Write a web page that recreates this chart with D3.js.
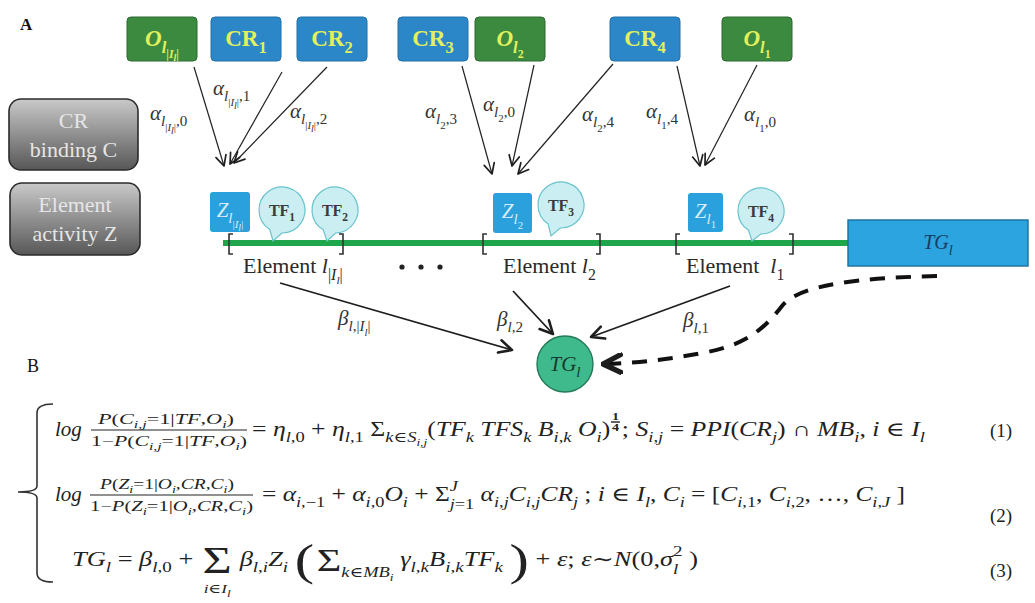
<!DOCTYPE html>
<html>
<head>
<meta charset="utf-8">
<script src="https://cdn.jsdelivr.net/npm/d3@7"></script>
<style>
  body { margin: 0; background: #fff; }
  svg { display: block; }
  text { white-space: pre; }
</style>
</head>
<body>
<script>
// ---- content ----
const panelLabels = ["A", "B"];
const topBoxLabels = ["O_{l_{|I_l|}}", "CR_1", "CR_2", "CR_3", "O_{l_2}", "CR_4", "O_{l_1}"];
const topBoxKinds = ["O", "CR", "CR", "CR", "O", "CR", "O"];
const sideButtons = [["CR", "binding C"], ["Element", "activity Z"]];
const elementNames = ["l_{|I_l|}", "l_2", " l_1"];
const zLabels = ["Z_{l_{|I_l|}}", "Z_{l_2}", "Z_{l_1}"];
const tfLabels = ["TF_1", "TF_2", "TF_3", "TF_4"];
const alphaLabels = ["α_{l_{|I_l|},0}", "α_{l_{|I_l|},1}", "α_{l_{|I_l|},2}", "α_{l_2,3}", "α_{l_2,0}", "α_{l_2,4}", "α_{l_1,4}", "α_{l_1,0}"];
const betaLabels = ["β_{l,|I_l|}", "β_{l,2}", "β_{l,1}"];
const geneLabel = "TG_l";
const eqNumbers = ["(1)", "(2)", "(3)"];

const eq1Num = "P(C_{i,j}=1|TF,O_i)";
const eq1Den = "1−P(C_{i,j}=1|TF,O_i)";
const eq1Rhs = "= η_{l,0} + η_{l,1} Σ_{k∈S_{i,j}}(TF_k TFS_k B_{i,k} O_i)^{1/4}; S_{i,j} = PPI(CR_j) ∩ MB_i, i ∈ I_l";
const eq2Num = "P(Z_i=1|O_i,CR,C_i)";
const eq2Den = "1−P(Z_i=1|O_i,CR,C_i)";
const eq2Rhs = "= α_{i,−1} + α_{i,0}O_i + Σ_{j=1}^{J} α_{i,j}C_{i,j}CR_j ; i ∈ I_l, C_i = [C_{i,1}, C_{i,2}, …, C_{i,J} ]";
const eq3Parts = ["TG_l = β_{l,0} + ", "i∈I_l", "β_{l,i}Z_i ", "k∈MB_i", " γ_{l,k}B_{i,k}TF_k ", " + ε; ε∼N(0,σ_l^2 )"];

// ---- layout ----
const W = 1035, H = 603;
const boxX = [127, 211, 297, 398, 475, 610, 722], boxY = 17, boxW = 70, boxH = 44;
const alphaStart = [[194, 67], [282, 72], [327, 67], [462, 66], [534, 65], [613, 64], [677, 66], [757, 65]];
const alphaEnd = [[224, 166], [230, 164], [234, 163], [492, 174], [512, 166], [518, 174], [700, 166], [705, 165]];
const alphaLabelPos = [[150, 120], [213, 95], [290, 118], [425, 118], [483, 111], [582, 121], [646, 118], [744, 121]];
const lineY = 243, lineX = [223, 850];
const bracketX = [[229, 343], [483, 600], [676, 793]];
const zBox = [[210, 192, 40, 40], [493, 193, 39, 40], [688, 193, 35, 39]];
const tfPos = [[282, 210], [335, 210], [561, 205], [761, 211]], tfR = 23;
const tfTip = [[273, 241], [327, 241], [551, 236], [752, 241]];
const elemX = [243, 503, 686], elemY = 273;
const dotsX = [402, 421, 440], dotsY = 267;
const tgBox = [848, 220, 180, 46];
const tgCircle = [565, 364, 28];
const betaStart = [[280, 283], [513, 291], [730, 286]];
const betaEnd = [[512, 350], [553, 334], [591, 337]];
const betaLabelPos = [[338, 325], [497, 326], [683, 327]];

const serif = "'Liberation Serif', 'DejaVu Serif', serif";

const svg = d3.select("body").append("svg")
  .attr("width", W).attr("height", H)
  .attr("viewBox", `0 0 ${W} ${H}`);

const defs = svg.append("defs");
function addHead(id, size, sw) {
  defs.append("marker").attr("id", id)
    .attr("viewBox", "0 0 10 10").attr("refX", 9).attr("refY", 5)
    .attr("markerWidth", size).attr("markerHeight", size)
    .attr("markerUnits", "userSpaceOnUse").attr("orient", "auto")
    .append("path").attr("d", "M1,1 L9,5 L1,9")
    .attr("fill", "none").attr("stroke", "#1e1e1e").attr("stroke-width", sw)
    .attr("stroke-linecap", "round").attr("stroke-linejoin", "round");
}
addHead("headThin", 13, 1.3);
addHead("headMid", 16, 1.6);
addHead("headBig", 22, 2.4);

const grad = defs.append("linearGradient").attr("id", "grayGrad")
  .attr("x1", 0).attr("y1", 0).attr("x2", 0).attr("y2", 1);
grad.append("stop").attr("offset", "0%").attr("stop-color", "#c9c9c9");
grad.append("stop").attr("offset", "100%").attr("stop-color", "#575757");

// ---- rich text: _{} subscripts, ^{} superscripts ----
function readArg(s, i) {
  if (s[i] !== "{") return [s[i], i + 1];
  let depth = 0, j = i;
  for (; j < s.length; j++) {
    if (s[j] === "{") depth++;
    else if (s[j] === "}") { depth--; if (depth === 0) break; }
  }
  return [s.slice(i + 1, j), j + 1];
}

const letterRe = /[A-Za-z\u03B1-\u03C9\u0393\u0394\u0398\u039B\u039E\u03A0\u03A6\u03A8\u03A9]/;

function drawRun(g, run, x, y, size, o) {
  let cx = x;
  const chunks = [];
  for (const ch of run) {
    const it = o.math && letterRe.test(ch);
    if (chunks.length && chunks[chunks.length - 1].it === it) chunks[chunks.length - 1].t += ch;
    else chunks.push({ t: ch, it });
  }
  chunks.forEach(c => {
    const t = g.append("text").attr("x", cx).attr("y", y)
      .attr("font-family", o.family || serif).attr("font-size", size)
      .attr("font-style", c.it ? "italic" : "normal")
      .attr("font-weight", o.bold ? "bold" : "normal")
      .attr("fill", o.fill || "#222").text(c.t);
    cx += t.node().getComputedTextLength();
  });
  return cx - x;
}

function rich(g, s, x, y, size, o) {
  let i = 0, cx = x;
  while (i < s.length) {
    const c = s[i];
    if (c === "_" || c === "^") {
      let sub = null, sup = null;
      let [a, ni] = readArg(s, i + 1);
      if (c === "_") sub = a; else sup = a;
      i = ni;
      if (i < s.length && (s[i] === "_" || s[i] === "^") && s[i] !== c) {
        const [a2, n2] = readArg(s, i + 1);
        if (s[i] === "^") sup = a2; else sub = a2;
        i = n2;
      }
      const both = sub !== null && sup !== null;
      const s2 = Math.max(size * 0.72, 10);
      let w = 0;
      if (sub !== null) w = Math.max(w, rich(g, sub, cx, y + size * (both ? 0.38 : 0.3), s2, o));
      if (sup === "1/4") {
        // small stacked fraction exponent
        const fs = size * 0.55;
        g.append("text").attr("x", cx + 4).attr("y", y - size * 0.78).attr("text-anchor", "middle")
          .attr("font-family", serif).attr("font-size", fs).attr("font-weight", "bold").attr("fill", o.fill || "#222").text("1");
        g.append("line").attr("x1", cx + 0.5).attr("x2", cx + 7.5)
          .attr("y1", y - size * 0.7).attr("y2", y - size * 0.7).attr("stroke", "#222").attr("stroke-width", 1.4);
        g.append("text").attr("x", cx + 4).attr("y", y - size * 0.25).attr("text-anchor", "middle")
          .attr("font-family", serif).attr("font-size", fs).attr("font-weight", "bold").attr("fill", o.fill || "#222").text("4");
        w = Math.max(w, 9);
      } else if (sup !== null) {
        w = Math.max(w, rich(g, sup, cx, y - size * (both ? 0.5 : 0.42), s2, o));
      }
      cx += w;
    } else {
      let j = i;
      while (j < s.length && s[j] !== "_" && s[j] !== "^") j++;
      cx += drawRun(g, s.slice(i, j), cx, y, size, o);
      i = j;
    }
  }
  return cx - x;
}

// render then stretch horizontally to a target width
function fitGroup(g, x0, w, target) {
  g.attr("transform", `translate(${x0},0) scale(${target / w},1) translate(${-x0},0)`);
}

function richCentered(g, s, cx, y, size, o) {
  const sub = g.append("g");
  const w = rich(sub, s, 0, y, size, o);
  sub.attr("transform", `translate(${cx - w / 2},0)`);
  return w;
}

// ---- panel labels ----
svg.append("text").attr("x", 20).attr("y", 30).attr("font-family", serif)
  .attr("font-weight", "bold").attr("font-size", 17).attr("fill", "#111").text(panelLabels[0]);
svg.append("text").attr("x", 27).attr("y", 372).attr("font-family", serif)
  .attr("font-size", 18).attr("fill", "#111").text(panelLabels[1]);

// ---- side buttons ----
const btnRects = [[9, 99, 129, 71], [10, 183, 130, 72]];
sideButtons.forEach((lines, k) => {
  const [x, y, w, h] = btnRects[k];
  svg.append("rect").attr("x", x).attr("y", y).attr("width", w).attr("height", h)
    .attr("rx", 12).attr("fill", "url(#grayGrad)").attr("stroke", "#2b2b2b").attr("stroke-width", 1.6);
  lines.forEach((t, li) => {
    svg.append("text").attr("x", x + w / 2).attr("y", y + 29 + li * 29)
      .attr("text-anchor", "middle").attr("font-family", serif).attr("font-size", 22)
      .attr("fill", "#e6e6e6").text(t);
  });
});

// ---- top boxes ----
topBoxLabels.forEach((lab, k) => {
  const isO = topBoxKinds[k] === "O";
  svg.append("rect").attr("x", boxX[k]).attr("y", boxY).attr("width", boxW).attr("height", boxH)
    .attr("rx", 4).attr("fill", isO ? "#3b8a3f" : "#2b87c8")
    .attr("stroke", isO ? "#2c6a30" : "#2170a8").attr("stroke-width", 1);
  richCentered(svg.append("g"), lab, boxX[k] + boxW / 2, boxY + 29, 23,
    { math: isO, bold: true, fill: "#e2f05c" });
});

// ---- alpha arrows ----
alphaLabels.forEach((lab, k) => {
  svg.append("line")
    .attr("x1", alphaStart[k][0]).attr("y1", alphaStart[k][1])
    .attr("x2", alphaEnd[k][0]).attr("y2", alphaEnd[k][1])
    .attr("stroke", "#222").attr("stroke-width", 1.2).attr("marker-end", "url(#headThin)");
  rich(svg.append("g"), lab, alphaLabelPos[k][0], alphaLabelPos[k][1], 21, { math: true, fill: "#333" });
});

// ---- regulatory region line ----
svg.append("line").attr("x1", lineX[0]).attr("x2", lineX[1]).attr("y1", lineY).attr("y2", lineY)
  .attr("stroke", "#1fa64a").attr("stroke-width", 6);

bracketX.forEach(([a, b]) => {
  svg.append("path").attr("d", `M${a + 4},${lineY - 9} L${a},${lineY - 9} L${a},${lineY + 11} L${a + 4},${lineY + 11}`)
    .attr("fill", "none").attr("stroke", "#333").attr("stroke-width", 1.6);
  svg.append("path").attr("d", `M${b - 4},${lineY - 9} L${b},${lineY - 9} L${b},${lineY + 11} L${b - 4},${lineY + 11}`)
    .attr("fill", "none").attr("stroke", "#333").attr("stroke-width", 1.6);
});

// TF bubbles
tfLabels.forEach((lab, k) => {
  const [cx, cy] = tfPos[k], [tx, ty] = tfTip[k];
  const th = Math.atan2(ty - cy, tx - cx);
  const a1 = th - 0.28, a2 = th + 0.28;
  const p = a => [cx + tfR * Math.cos(a), cy + tfR * Math.sin(a)];
  const [x2, y2] = p(a2), [x1, y1] = p(a1);
  svg.append("path")
    .attr("d", `M${x2},${y2} A${tfR},${tfR} 0 1 1 ${x1},${y1} L${tx},${ty} Z`)
    .attr("fill", "#caeef2").attr("stroke", "#67c3cc").attr("stroke-width", 1.2);
  richCentered(svg.append("g"), lab, cx, cy + 6, 16, { math: false, bold: true, fill: "#3a3a3a" });
});

// Z boxes
zLabels.forEach((lab, k) => {
  const [x, y, w, h] = zBox[k];
  svg.append("rect").attr("x", x).attr("y", y).attr("width", w).attr("height", h)
    .attr("rx", 3).attr("fill", "#2aa0dc");
  richCentered(svg.append("g"), lab, x + w / 2, y + h / 2 + 5, 21, { math: true, fill: "#d6ecfa" });
});

// element labels
elementNames.forEach((nm, k) => {
  const g = svg.append("g");
  const w = drawRun(g, "Element ", elemX[k], elemY, 22, { math: false, fill: "#2a2a2a" });
  rich(g, nm, elemX[k] + w, elemY, 22, { math: true, fill: "#2a2a2a" });
});
dotsX.forEach(x => svg.append("circle").attr("cx", x).attr("cy", dotsY).attr("r", 2.6).attr("fill", "#222"));

// target gene box
svg.append("rect").attr("x", tgBox[0]).attr("y", tgBox[1]).attr("width", tgBox[2]).attr("height", tgBox[3])
  .attr("fill", "#2ba4e0").attr("stroke", "#1c6e9c").attr("stroke-width", 1.4);
richCentered(svg.append("g"), geneLabel, tgBox[0] + tgBox[2] / 2, tgBox[1] + 29, 20, { math: true, fill: "#173e66" });

// beta arrows
betaLabels.forEach((lab, k) => {
  svg.append("line")
    .attr("x1", betaStart[k][0]).attr("y1", betaStart[k][1])
    .attr("x2", betaEnd[k][0]).attr("y2", betaEnd[k][1])
    .attr("stroke", "#1e1e1e").attr("stroke-width", 1.8).attr("marker-end", "url(#headMid)");
  rich(svg.append("g"), lab, betaLabelPos[k][0], betaLabelPos[k][1], 21, { math: true, fill: "#333" });
});

// dashed feedback arrow
svg.append("path")
  .attr("d", "M937,276 C860,278 800,284 782,306 C762,332 742,346 702,353 C670,359 640,363 603,364")
  .attr("fill", "none").attr("stroke", "#111").attr("stroke-width", 4)
  .attr("stroke-dasharray", "15 11").attr("marker-end", "url(#headBig)");

// target gene circle
svg.append("circle").attr("cx", tgCircle[0]).attr("cy", tgCircle[1]).attr("r", tgCircle[2])
  .attr("fill", "#3fba8c").attr("stroke", "#247a5a").attr("stroke-width", 1.4);
richCentered(svg.append("g"), geneLabel, tgCircle[0], tgCircle[1] + 7, 21, { math: true, fill: "#173a2e" });

// ---- equations ----
const eqO = { math: true, fill: "#222" };

svg.append("path")
  .attr("d", "M53,404 Q37,404 37,413 L37,486 Q37,492 18,492 Q37,492 37,498 L37,573 Q37,582 53,582")
  .attr("fill", "none").attr("stroke", "#333").attr("stroke-width", 1.6);

function fractionPart(s, x0, y, target) {
  const g = svg.append("g");
  const w = rich(g, s, x0, y, 15, eqO);
  fitGroup(g, x0, w, target);
}
function fraction(num, den, barY, numX, denX) {
  svg.append("line").attr("x1", denX[0]).attr("x2", denX[1]).attr("y1", barY).attr("y2", barY)
    .attr("stroke", "#222").attr("stroke-width", 1.2);
  fractionPart(num, numX[0], barY - 6, numX[1] - numX[0]);
  fractionPart(den, denX[0], barY + 16, denX[1] - denX[0]);
}

// eq 1
rich(svg.append("g"), "log", 55, 436, 21, eqO);
fraction(eq1Num, eq1Den, 430, [98, 234], [91, 247]);
{
  const g = svg.append("g");
  const w = rich(g, eq1Rhs, 252, 436, 20, eqO);
  fitGroup(g, 252, w, 673);
}
// eq 2
rich(svg.append("g"), "log", 55, 501, 21, eqO);
fraction(eq2Num, eq2Den, 495, [100, 234], [90, 253]);
{
  const g = svg.append("g");
  const w = rich(g, eq2Rhs, 262, 501, 20, eqO);
  fitGroup(g, 262, w, 643);
}
// eq 3
{
  const g = svg.append("g");
  const y = 566;
  let x = 72;
  x += rich(g, eq3Parts[0], x, y, 20, eqO);
  // big sum with lower limit
  const sg = g.append("text").attr("x", x + 2).attr("y", y + 7).attr("font-family", serif)
    .attr("font-size", 38).attr("fill", "#222").text("Σ");
  const sw = sg.node().getComputedTextLength();
  richCentered(g, eq3Parts[1], x + 2 + sw / 2, y + 27, 13, eqO);
  x += sw + 8;
  x += rich(g, eq3Parts[2], x, y, 20, eqO);
  const lp = g.append("text").attr("x", x).attr("y", y + 9).attr("font-family", serif)
    .attr("font-size", 44).attr("fill", "#222").text("(");
  x += lp.node().getComputedTextLength() + 2;
  const s2 = g.append("text").attr("x", x).attr("y", y + 5).attr("font-family", serif)
    .attr("font-size", 32).attr("fill", "#222").text("Σ");
  x += s2.node().getComputedTextLength();
  x += rich(g, eq3Parts[3], x, y + 11, 14, eqO);
  x += rich(g, eq3Parts[4], x, y, 20, eqO);
  const rp = g.append("text").attr("x", x).attr("y", y + 9).attr("font-family", serif)
    .attr("font-size", 44).attr("fill", "#222").text(")");
  x += rp.node().getComputedTextLength();
  x += rich(g, eq3Parts[5], x, y, 20, eqO);
  fitGroup(g, 72, x - 72, 626);
}

const eqNumY = [437, 522, 577];
eqNumbers.forEach((t, k) => {
  svg.append("text").attr("x", 990).attr("y", eqNumY[k]).attr("font-family", serif)
    .attr("font-size", 19).attr("fill", "#222").text(t);
});
</script>
</body>
</html>
